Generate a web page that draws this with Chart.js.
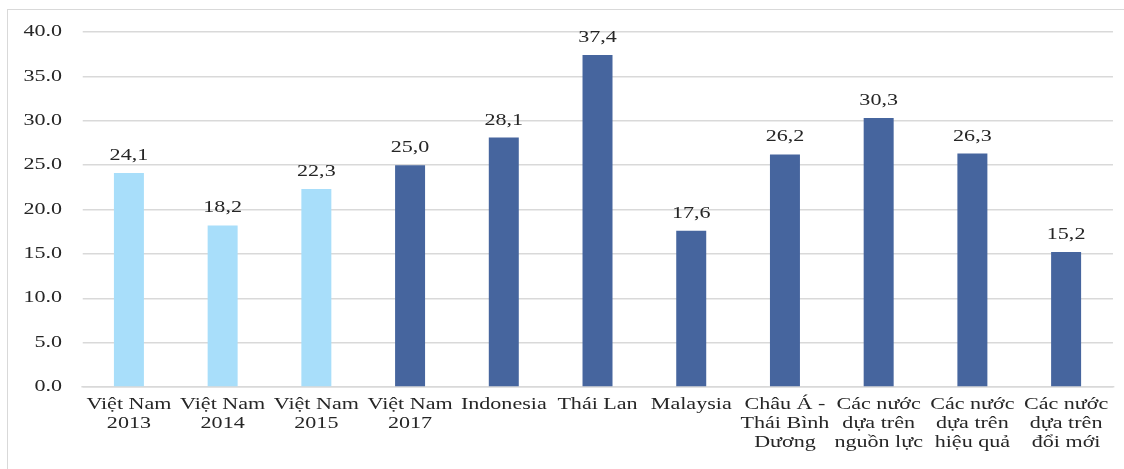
<!DOCTYPE html>
<html>
<head>
<meta charset="utf-8">
<script src="https://cdn.jsdelivr.net/npm/chart.js@4"></script>
<style>
  html, body { margin: 0; padding: 0; background: #fff; overflow: hidden; }
  #frame {
    position: absolute; left: 7px; top: 9px; width: 1130px; height: 470px;
    border: 1.5px solid #d9d9d9; box-sizing: border-box;
  }
  #myChart { position: absolute; left: 0; top: 0; }
</style>
</head>
<body>
<div id="frame"></div>
<canvas id="myChart" width="815" height="469"></canvas>
<script>
// 各国/各组的数值
var categories = [
  ['Việt Nam', '2013'], ['Việt Nam', '2014'], ['Việt Nam', '2015'], ['Việt Nam', '2017'],
  'Indonesia', 'Thái Lan', 'Malaysia',
  ['Châu Á -', 'Thái Bình', 'Dương'],
  ['Các nước', 'dựa trên', 'nguồn lực'],
  ['Các nước', 'dựa trên', 'hiệu quả'],
  ['Các nước', 'dựa trên', 'đổi mới']
];
var values = [24.1, 18.2, 22.3, 25.0, 28.1, 37.4, 17.6, 26.2, 30.3, 26.3, 15.2];
var barColors = ['#a8defa', '#a8defa', '#a8defa', '#46659e', '#46659e', '#46659e',
                 '#46659e', '#46659e', '#46659e', '#46659e', '#46659e'];
var yTicks = [0, 5, 10, 15, 20, 25, 30, 35, 40];

var FONT = { family: '"Liberation Serif", "Times New Roman", serif', size: 16 };
var STRETCH = 1124 / 815; // 横向拉宽

// 在柱子上方写数值（逗号作小数点）
var valueLabels = {
  id: 'valueLabels',
  afterDatasetsDraw: function (chart) {
    var ctx = chart.ctx;
    var meta = chart.getDatasetMeta(0);
    ctx.save();
    ctx.font = FONT.size + 'px ' + FONT.family;
    ctx.fillStyle = '#262626';
    ctx.textAlign = 'center';
    ctx.textBaseline = 'alphabetic';
    meta.data.forEach(function (bar, i) {
      var txt = values[i].toFixed(1).replace('.', ',');
      ctx.fillText(txt, bar.x, bar.y - 13);
    });
    ctx.restore();
  }
};

var myChart;
function render() {
  var el = document.getElementById('myChart');
  var canvas = el.getContext('2d');
  myChart = new Chart(canvas, {
    type: 'bar',
    data: {
      labels: categories,
      datasets: [{
        data: values,
        backgroundColor: barColors,
        barPercentage: 0.32,
        categoryPercentage: 1
      }]
    },
    options: {
      responsive: false,
      animation: false,
      events: [],
      layout: { padding: { top: 32, right: 8, left: 0, bottom: 0 } },
      plugins: { legend: { display: false }, tooltip: { enabled: false } },
      scales: {
        x: {
          grid: { display: false, drawTicks: false },
          border: { color: '#d9d9d9', width: 1.5 },
          ticks: { color: '#262626', font: FONT, padding: 8, maxRotation: 0, autoSkip: false },
          afterFit: function (s) { s.height = 82; }
        },
        y: {
          min: 0, max: 40,
          afterBuildTicks: function (s) { s.ticks = yTicks.map(function (v) { return { value: v }; }); },
          grid: { color: '#d9d9d9', lineWidth: 1.5, drawTicks: false },
          border: { display: false },
          ticks: {
            color: '#262626', font: FONT, padding: 14.5,
            callback: function (v) { return Number(v).toFixed(1); }
          },
          afterFit: function (s) { s.width = 59.5; }
        }
      }
    },
    plugins: [valueLabels]
  });

  // 画布放宽到 1124，再横向拉伸重画
  el.width = 1124;
  el.style.width = '1124px';
  el.style.height = '469px';
  canvas.setTransform(STRETCH, 0, 0, 1, 0, 0);
  myChart.draw();
}
render();
</script>
</body>
</html>
